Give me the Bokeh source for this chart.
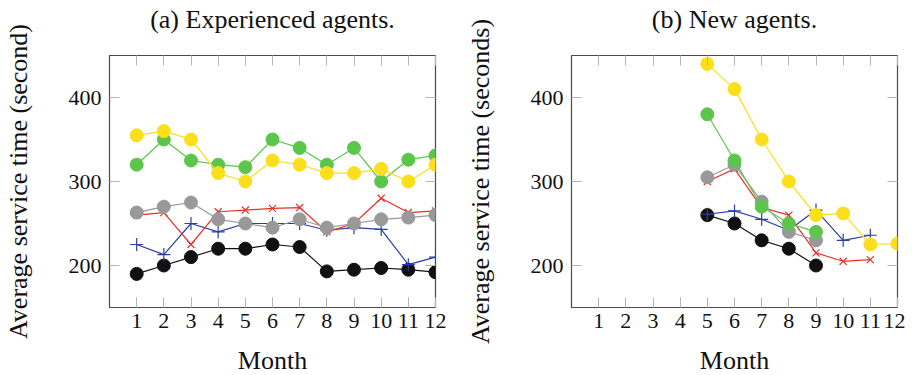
from bokeh.plotting import figure
from bokeh.layouts import row
from bokeh.models import LinearAxis, FixedTicker, CustomJSTickFormatter, Range1d
from bokeh.embed import file_html
from bokeh.resources import INLINE

# ---------------- data ----------------
month_ticks = [1, 2, 3, 4, 5, 6, 7, 8, 9, 10, 11, 12]
y_ticks = [200, 300, 400]

# (a) experienced agents, months 1..12
exp_months = [1, 2, 3, 4, 5, 6, 7, 8, 9, 10, 11, 12]
exp_black = [190, 200, 210, 220, 220, 225, 222, 193, 195, 197, 195, 192]
exp_blue = [225, 213, 250, 240, 250, 250, 250, 242, 245, 243, 201, 210]
exp_red = [260, 263, 225, 264, 266, 268, 269, 240, 250, 280, 263, 265]
exp_gray = [263, 270, 275, 255, 250, 245, 255, 245, 250, 255, 257, 260]
exp_green = [320, 350, 325, 320, 317, 350, 340, 320, 340, 300, 326, 331]
exp_yellow = [355, 360, 350, 310, 300, 325, 320, 310, 310, 315, 300, 320]

# (b) new agents
new_black_m = [5, 6, 7, 8, 9]
new_black = [260, 250, 230, 220, 200]
new_blue_m = [5, 6, 7, 8, 9, 10, 11]
new_blue = [261, 265, 255, 242, 266, 230, 236]
new_red_m = [5, 6, 7, 8, 9, 10, 11]
new_red = [300, 315, 269, 260, 215, 205, 207]
new_gray_m = [5, 6, 7, 8, 9]
new_gray = [305, 320, 276, 240, 230]
new_green_m = [5, 6, 7, 8, 9]
new_green = [380, 325, 270, 250, 240]
new_yellow_m = [5, 6, 7, 8, 9, 10, 11, 12]
new_yellow = [440, 410, 350, 300, 260, 262, 225, 226]

BLACK = "#111111"
BLUE = "#2b3ea6"
RED = "#e5332a"
GRAY = "#999999"
GREEN = "#5cc64b"
YELLOW = "#fbdf1a"

FONT = "Liberation Serif"
FRAME = "#4a4a4a"
TICK = "#b5b5b5"


def make_fig(title, ylabel, ml, mr):
    p = figure(output_backend="svg", toolbar_location=None,
               frame_width=326, frame_height=252,
               min_border_left=ml, min_border_right=mr,
               min_border_top=55, min_border_bottom=50,
               x_range=Range1d(0, 12), y_range=Range1d(150, 450),
               background_fill_color="white",
               border_fill_color="white")
    p.grid.visible = False
    p.outline_line_color = FRAME
    p.outline_line_width = 1.2

    for ax in (p.xaxis[0], p.yaxis[0]):
        ax.axis_line_color = None
        ax.major_tick_in = 10
        ax.major_tick_out = 0
        ax.major_tick_line_color = TICK
        ax.minor_tick_line_color = None
        ax.major_label_text_font = FONT
        ax.major_label_text_font_size = "22px"
        ax.major_label_text_color = "#111111"
        ax.axis_label_text_font = FONT
        ax.axis_label_text_font_size = "26px"
        ax.axis_label_text_font_style = "normal"
        ax.axis_label_text_color = "#111111"
    p.xaxis[0].ticker = FixedTicker(ticks=month_ticks)
    p.yaxis[0].ticker = FixedTicker(ticks=y_ticks)
    p.xaxis[0].axis_label = "Month"
    p.yaxis[0].axis_label = ylabel
    p.xaxis[0].major_label_standoff = 6
    p.xaxis[0].major_label_text_line_height = 1.0
    p.xaxis[0].axis_label_standoff = 15
    p.xaxis[0].axis_label_text_line_height = 1.0
    p.yaxis[0].major_label_standoff = 8
    p.yaxis[0].axis_label_standoff = 33

    blank = CustomJSTickFormatter(code="return ''")
    # mirrored top axis carries the panel title as its label
    top = LinearAxis(ticker=FixedTicker(ticks=month_ticks), formatter=blank,
                     axis_line_color=None, major_tick_in=10, major_tick_out=0,
                     major_tick_line_color=TICK, minor_tick_line_color=None,
                     major_label_standoff=0,
                     axis_label=title, axis_label_standoff=22,
                     axis_label_text_font=FONT,
                     axis_label_text_font_size="26px",
                     axis_label_text_font_style="normal",
                     axis_label_text_color="#111111",
                     axis_label_text_line_height=1.0)
    right = LinearAxis(ticker=FixedTicker(ticks=y_ticks), formatter=blank,
                       axis_line_color=None, major_tick_in=10, major_tick_out=0,
                       major_tick_line_color=TICK, minor_tick_line_color=None,
                       major_label_standoff=0)
    p.add_layout(top, "above")
    p.add_layout(right, "right")
    return p


def draw(p, series):
    for xs, ys, col, mk in series:
        p.line(xs, ys, line_color=col, line_width=1.2)
        if mk == "circle":
            p.scatter(xs, ys, marker="circle", size=13, fill_color=col,
                      line_color=col)
        elif mk == "x":
            p.scatter(xs, ys, marker="x", size=10, line_color=col,
                      line_width=1.2)
        else:
            p.scatter(xs, ys, marker="cross", size=13, line_color=col,
                      line_width=1.2)


p1 = make_fig("(a) Experienced agents.", "Average service time (second)", 101, 27)
draw(p1, [
    (exp_months, exp_black, BLACK, "circle"),
    (exp_months, exp_blue, BLUE, "cross"),
    (exp_months, exp_red, RED, "x"),
    (exp_months, exp_gray, GRAY, "circle"),
    (exp_months, exp_green, GREEN, "circle"),
    (exp_months, exp_yellow, YELLOW, "circle"),
])

p2 = make_fig("(b) New agents.", "Average service time (seconds)", 101, 8)
draw(p2, [
    (new_black_m, new_black, BLACK, "circle"),
    (new_blue_m, new_blue, BLUE, "cross"),
    (new_red_m, new_red, RED, "x"),
    (new_gray_m, new_gray, GRAY, "circle"),
    (new_green_m, new_green, GREEN, "circle"),
    (new_yellow_m, new_yellow, YELLOW, "circle"),
])

layout = row(p1, p2)
open("out.html", "w").write(file_html(layout, INLINE))
